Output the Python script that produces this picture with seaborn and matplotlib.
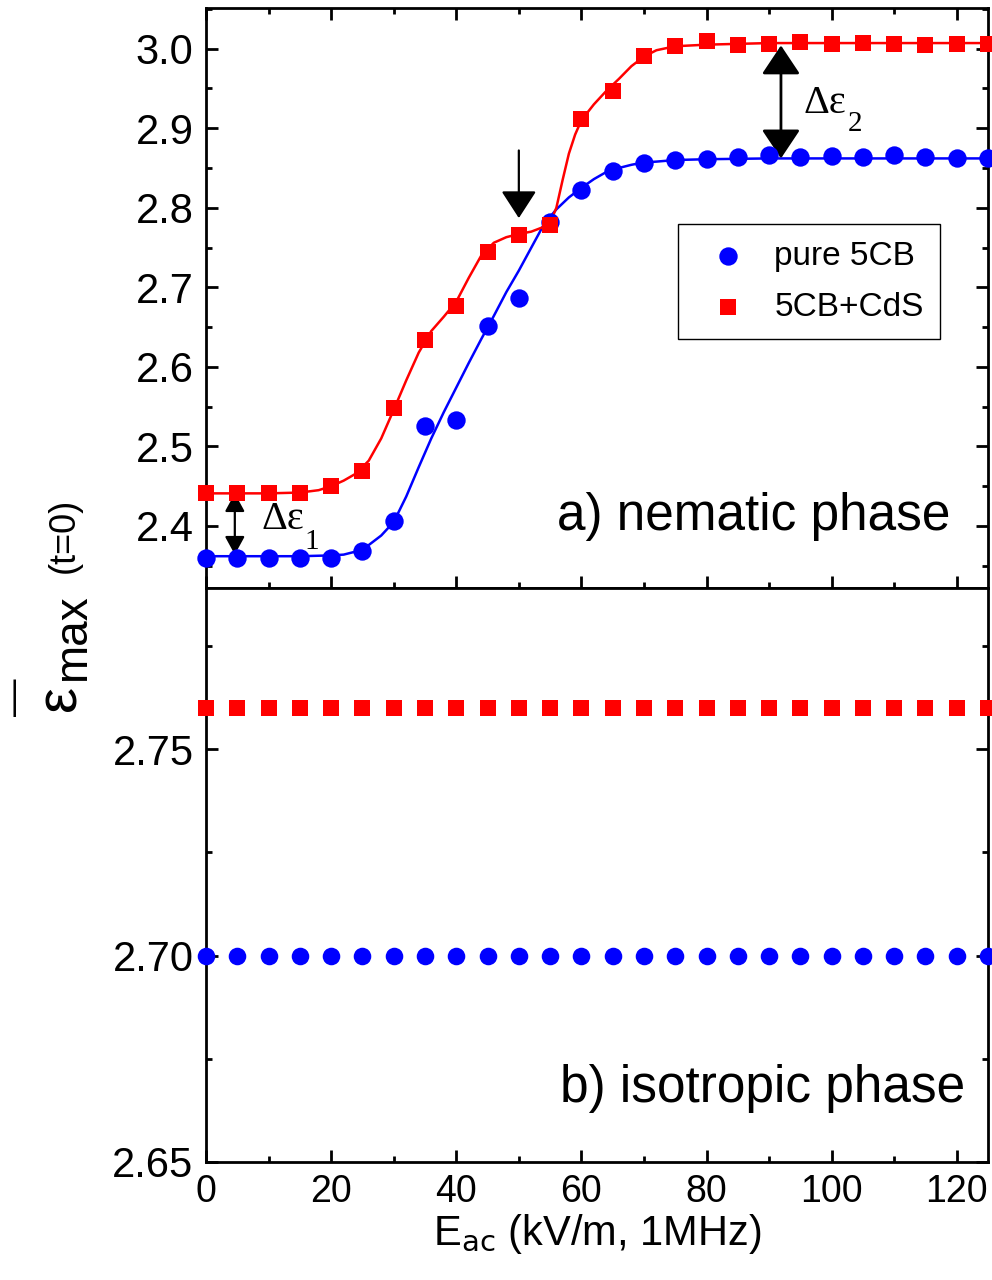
import seaborn as sns
import matplotlib.pyplot as plt
from matplotlib.ticker import MultipleLocator, FormatStrFormatter
import pandas as pd

# Field strengths (kV/m) where the permittivity was measured
field = [0, 5, 10, 15, 20, 25, 30, 35, 40, 45, 50, 55, 60,
         65, 70, 75, 80, 85, 90, 95, 100, 105, 110, 115, 120, 125]

# a) nematic phase, measured points
nem_pure = [2.360, 2.360, 2.360, 2.360, 2.360, 2.368, 2.406, 2.526, 2.533, 2.651,
            2.687, 2.782, 2.822, 2.846, 2.856, 2.860, 2.861, 2.864, 2.866, 2.864,
            2.865, 2.864, 2.866, 2.864, 2.862, 2.862]
nem_cds = [2.442, 2.442, 2.441, 2.441, 2.450, 2.469, 2.548, 2.634, 2.677, 2.744,
           2.766, 2.778, 2.912, 2.947, 2.991, 3.003, 3.009, 3.005, 3.006, 3.008,
           3.006, 3.007, 3.006, 3.005, 3.006, 3.006]

# fitted curves
fit_x_pure = [0, 5, 10, 15, 20, 22, 24, 26, 28, 30, 32, 34, 36, 38, 40, 42, 44, 46,
              48, 50, 52, 54, 56, 58, 60, 62, 64, 66, 68, 70, 72, 75, 80, 90, 100,
              110, 125]
fit_pure = [2.362, 2.362, 2.362, 2.362, 2.363, 2.364, 2.368, 2.376, 2.388, 2.405,
            2.437, 2.474, 2.510, 2.543, 2.574, 2.605, 2.635, 2.664, 2.694, 2.721,
            2.750, 2.779, 2.798, 2.813, 2.825, 2.836, 2.845, 2.850, 2.854, 2.857,
            2.858, 2.860, 2.861, 2.862, 2.862, 2.862, 2.862]
fit_x_cds = [0, 5, 10, 15, 18, 20, 22, 24, 26, 28, 30, 32, 34, 36, 38, 40, 42, 44,
             46, 48, 50, 52, 54, 55, 56, 57, 58, 59, 60, 62, 64, 66, 68, 70, 72, 75,
             80, 90, 100, 125]
fit_cds = [2.441, 2.441, 2.441, 2.442, 2.445, 2.450, 2.457, 2.466, 2.482, 2.510,
           2.546, 2.583, 2.618, 2.645, 2.663, 2.682, 2.712, 2.740, 2.756, 2.763,
           2.767, 2.770, 2.776, 2.781, 2.800, 2.835, 2.868, 2.892, 2.910, 2.930,
           2.947, 2.962, 2.978, 2.990, 2.998, 3.003, 3.005, 3.007, 3.007, 3.007]

# b) isotropic phase, measured points
iso_pure = [2.700] * len(field)
iso_cds = [2.760] * len(field)

df = pd.DataFrame({'E': field, 'nem_pure': nem_pure, 'nem_cds': nem_cds,
                   'iso_pure': iso_pure, 'iso_cds': iso_cds})

sns.set_style("ticks")
plt.rcParams['font.family'] = ['Liberation Sans', 'DejaVu Sans']
plt.rcParams.update({'text.color': 'black', 'axes.labelcolor': 'black',
                     'xtick.color': 'black', 'ytick.color': 'black',
                     'axes.edgecolor': 'black'})

fig = plt.figure(figsize=(9.92, 12.8), dpi=100)
ax1 = fig.add_axes([0.2077, 0.5406, 0.7883, 0.4531])
ax2 = fig.add_axes([0.2077, 0.0922, 0.7883, 0.4484], sharex=ax1)

blue = '#0000ff'
red = '#ff0000'

# top panel: fits + data
sns.lineplot(x=fit_x_pure, y=fit_pure, color=blue, lw=1.8, ax=ax1,
             estimator=None, sort=False, legend=False)
sns.lineplot(x=fit_x_cds, y=fit_cds, color=red, lw=1.8, ax=ax1,
             estimator=None, sort=False, legend=False)
sns.scatterplot(data=df, x='E', y='nem_pure', marker='o', color=blue, s=175,
                linewidth=0, ax=ax1, clip_on=False, zorder=4, label='pure 5CB')
sns.scatterplot(data=df, x='E', y='nem_cds', marker='s', color=red, s=140,
                linewidth=0, ax=ax1, clip_on=False, zorder=4, label='5CB+CdS')

# bottom panel: data only
sns.scatterplot(data=df, x='E', y='iso_pure', marker='o', color=blue, s=160,
                linewidth=0, ax=ax2, clip_on=False, zorder=4, legend=False)
sns.scatterplot(data=df, x='E', y='iso_cds', marker='s', color=red, s=130,
                linewidth=0, ax=ax2, clip_on=False, zorder=4, legend=False)

ax1.set_xlim(0, 125)
ax1.set_ylim(2.322, 3.051)
ax2.set_ylim(2.65, 2.789)

ax1.yaxis.set_major_locator(MultipleLocator(0.1))
ax1.yaxis.set_minor_locator(MultipleLocator(0.05))
ax1.yaxis.set_major_formatter(FormatStrFormatter('%.1f'))
ax2.yaxis.set_major_locator(MultipleLocator(0.05))
ax2.yaxis.set_minor_locator(MultipleLocator(0.025))
ax2.yaxis.set_major_formatter(FormatStrFormatter('%.2f'))
ax2.xaxis.set_major_locator(MultipleLocator(20))
ax2.xaxis.set_minor_locator(MultipleLocator(10))

for ax in (ax1, ax2):
    for sp in ax.spines.values():
        sp.set_linewidth(2)
        sp.set_color('black')
        sp.set_visible(True)
    ax.tick_params(which='both', direction='in', width=2, right=True, pad=9)
    ax.tick_params(axis='y', labelsize=30)
    ax.tick_params(axis='x', labelsize=27)
    ax.tick_params(which='major', length=8.5)
    ax.tick_params(which='minor', length=4.5)
    ax.set_xlabel('')
    ax.set_ylabel('')
ax1.tick_params(which='both', top=True, labelbottom=False)
ax2.tick_params(which='both', top=False)

ax2.set_xlabel(r'E$_{\rm ac}$ (kV/m, 1MHz)', fontsize=30, labelpad=1)

# y label built from pieces to mimic the original layout
fig.text(16 / 992, 1 - 697 / 1280, '\u2014', rotation=90, fontsize=27,
         ha='center', va='center')
fig.text(60 / 992, 1 - 698 / 1280, '\u03b5', rotation=90, fontsize=42,
         ha='center', va='center')
fig.text(73 / 992, 1 - 638 / 1280, 'max', rotation=90, fontsize=33,
         ha='center', va='center')
fig.text(64 / 992, 1 - 535 / 1280, '(t=0)', rotation=90, fontsize=26,
         ha='center', va='center')

# panel captions
ax1.text(119, 2.395, 'a) nematic phase', fontsize=37, ha='right', va='baseline')
ax2.text(121.4, 2.6646, 'b) isotropic phase', fontsize=37, ha='right',
         va='baseline')

# arrows and delta labels
ax1.annotate('', xy=(50, 2.787), xytext=(50, 2.872),
             arrowprops=dict(arrowstyle='-|>,head_length=0.85,head_width=0.55',
                             color='black', lw=1.6, mutation_scale=20,
                             shrinkA=0, shrinkB=0))
ax1.annotate('', xy=(91.9, 3.004), xytext=(91.9, 2.862),
             arrowprops=dict(arrowstyle='<|-|>,head_length=0.9,head_width=0.6',
                             color='black', lw=2, mutation_scale=20,
                             shrinkA=0, shrinkB=0))
ax1.annotate('', xy=(4.6, 2.441), xytext=(4.6, 2.364),
             arrowprops=dict(arrowstyle='<|-|>,head_length=0.55,head_width=0.3',
                             color='black', lw=1.6, mutation_scale=20,
                             shrinkA=0, shrinkB=0))
serif = ['Liberation Serif', 'DejaVu Serif']
ax1.text(95.5, 2.919, '\u0394\u03b5', fontsize=29, family=serif,
         ha='left', va='baseline')
ax1.text(102.6, 2.897, '2', fontsize=21, family=serif, ha='left', va='baseline')
ax1.text(8.9, 2.396, '\u0394\u03b5', fontsize=29, family=serif,
         ha='left', va='baseline')
ax1.text(15.8, 2.371, '1', fontsize=21, family=serif, ha='left', va='baseline')

leg = ax1.legend(loc='upper right', bbox_to_anchor=(0.939, 0.6276), fontsize=24,
                 frameon=True, fancybox=False, framealpha=1, edgecolor='black',
                 borderpad=0.5, labelspacing=0.6, handletextpad=0.4,
                 handlelength=2.0, scatterpoints=1, borderaxespad=0)
leg.get_frame().set_linewidth(1)

plt.savefig('out.png', dpi=100)
